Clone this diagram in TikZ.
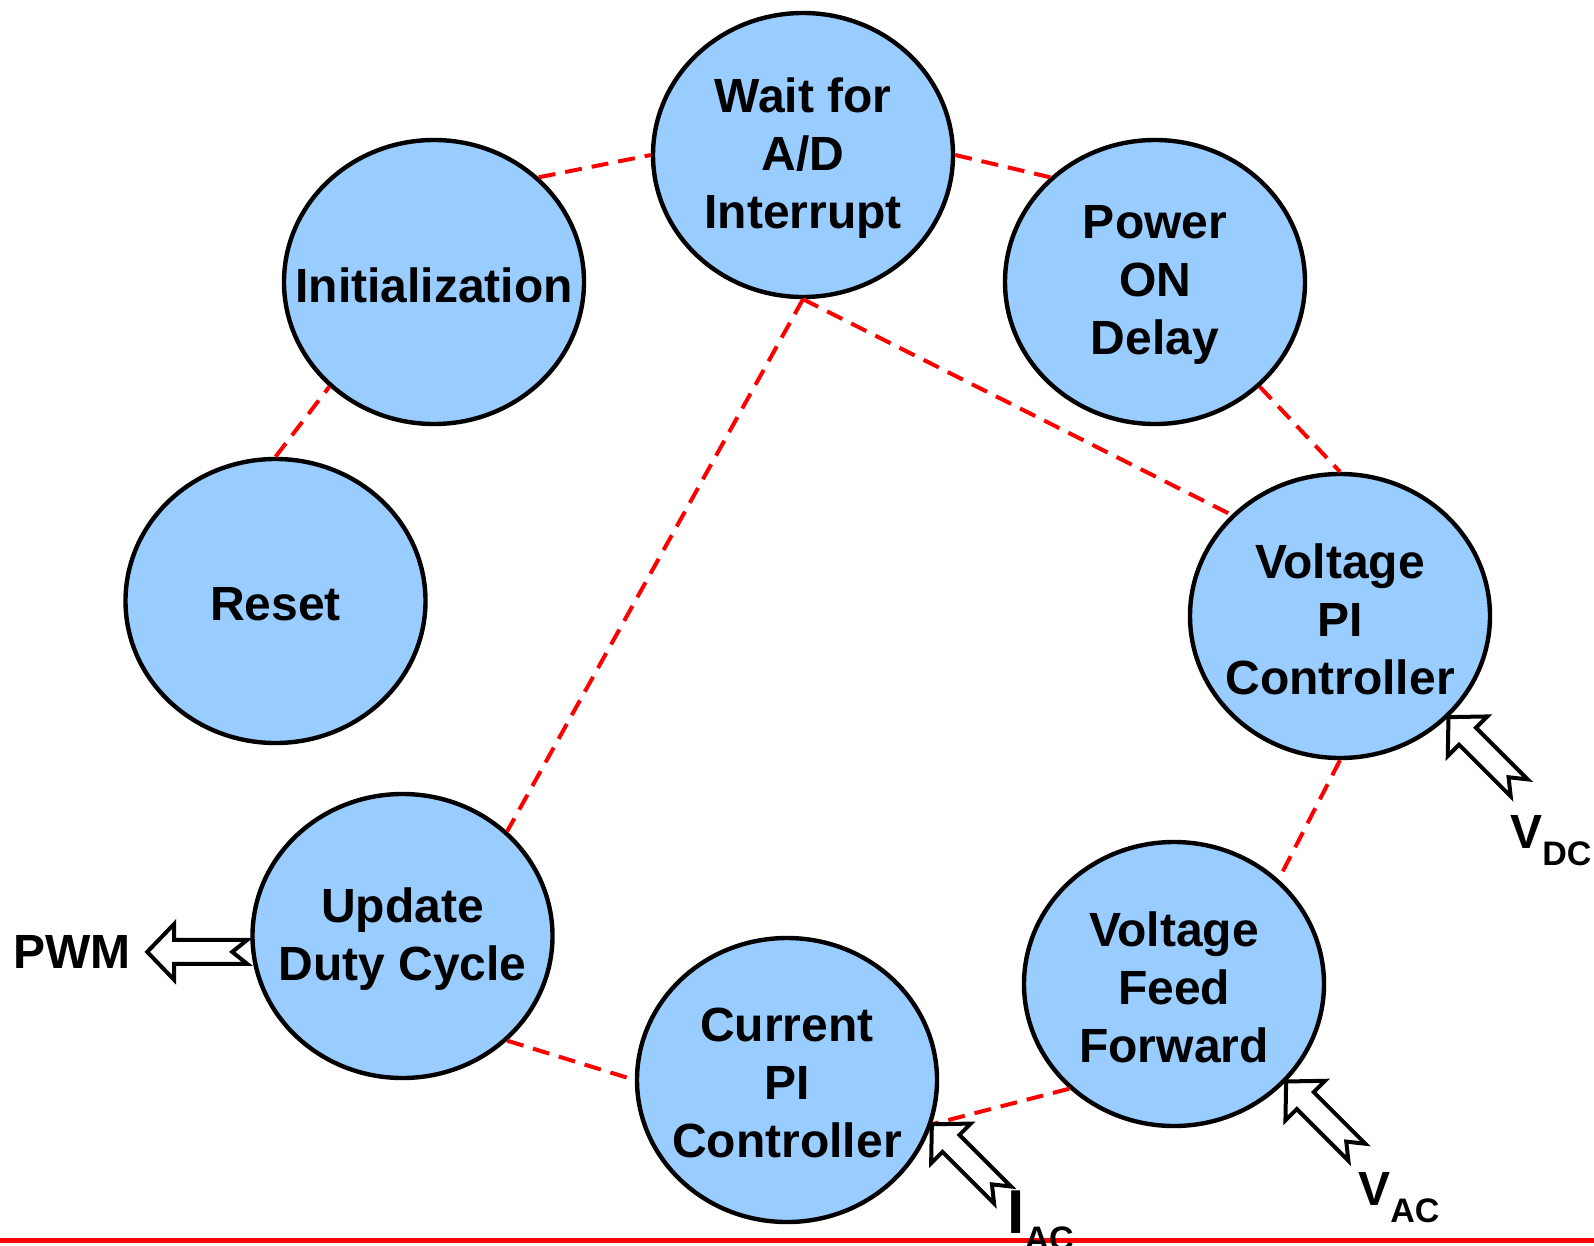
\documentclass[tikz,border=0pt]{standalone}
\usepackage{fontspec}
\setmainfont{Liberation Sans}
\usepackage{tikz}
\usetikzlibrary{shapes.geometric,positioning,calc}
\definecolor{stateblue}{RGB}{153,204,255}
\tikzset{
  fsm/caption/.style={inner sep=0pt, align=center, yshift=-1.5pt, font=\bfseries\fontsize{24}{29}\selectfont},
  fsm/state/.style={draw, ellipse, line width=2.2pt, fill=stateblue, minimum width=150pt, minimum height=142pt, inner sep=0pt, label={[fsm/caption]center:#1}},
  fsm/link/.style={red, line width=2pt, dash pattern=on 8.5pt off 5pt},
  fsm/rule/.style={red, line width=2.5pt},
  fsm/signal/.style={font=\bfseries\fontsize{24}{29}\selectfont, inner sep=0pt, anchor=base west},
  pics/fsm/hollow/.style={code={
    \draw[line width=2pt, fill=white, miter limit=10]
      (0,0) -- (-27,28) -- (-27,12) -- (-100,12) -- (-85,0) -- (-100,-12) -- (-27,-12) -- (-27,-28) -- cycle;}}
}
\newcommand{\sigsub}[2]{#1\raisebox{-8.5pt}{\fontsize{17}{17}\selectfont #2}}

\begin{document}
\begin{tikzpicture}[x=0.5pt, y=-0.5pt]
  \useasboundingbox (0,0) rectangle (1594,1246);

  % states round the loop
  \node[fsm/state={Wait for\\A/D\\Interrupt}] (wait) at (803,155) {};
  \node[fsm/state={Initialization}] (init) at (434,282) {};
  \node[fsm/state={Power\\ON\\Delay}] (power) at (1155,282) {};
  \node[fsm/state={Reset}] (reset) at (275.5,601) {};
  \node[fsm/state={Voltage\\PI\\Controller}] (vpi) at (1340,616) {};
  \node[fsm/state={Update\\Duty Cycle}] (update) at (402.5,936) {};
  \node[fsm/state={Current\\PI\\Controller}] (cpi) at (787,1080) {};
  \node[fsm/state={Voltage\\Feed\\Forward}] (vff) at (1174,984) {};

  \draw[fsm/link] (reset.north) -- (init.-135);
  \draw[fsm/link] (init.45) -- (wait.west);
  \draw[fsm/link] (wait.east) -- (power.135);
  \draw[fsm/link] (power.-45) -- (vpi.north);
  \draw[fsm/link] (wait.south) -- (vpi.137);
  \draw[fsm/link] (wait.south) -- (update.45);
  \draw[fsm/link] (vpi.south) -- (vff.45);
  \draw[fsm/link] (vff.-135) -- (cpi.-17);
  \draw[fsm/link] (update.-45) -- (cpi.west);

  \draw[fsm/rule] (0,1240) -- (1594,1240);

  % measured inputs and the PWM output
  \pic[rotate=135] at (vpi.-43) {fsm/hollow};
  \pic[rotate=135] at (vff.-41) {fsm/hollow};
  \pic[rotate=135] at (cpi.-17) {fsm/hollow};
  \coordinate (pwmtip) at ($(update.186)+(-104,0)$);
  \pic[rotate=180] at (pwmtip) {fsm/hollow};

  \node[fsm/signal] (vdc) at (1510,848) {\sigsub{V}{DC}};
  \node[fsm/signal] (vac) at (1358,1205) {\sigsub{V}{AC}};
  \node[fsm/signal] (iac) at (1007,1233) {\fontsize{31}{31}\selectfont\sigsub{I}{AC}};
  \node[fsm/signal, left=8pt of pwmtip] (pwm) {PWM};
\end{tikzpicture}
\end{document}
